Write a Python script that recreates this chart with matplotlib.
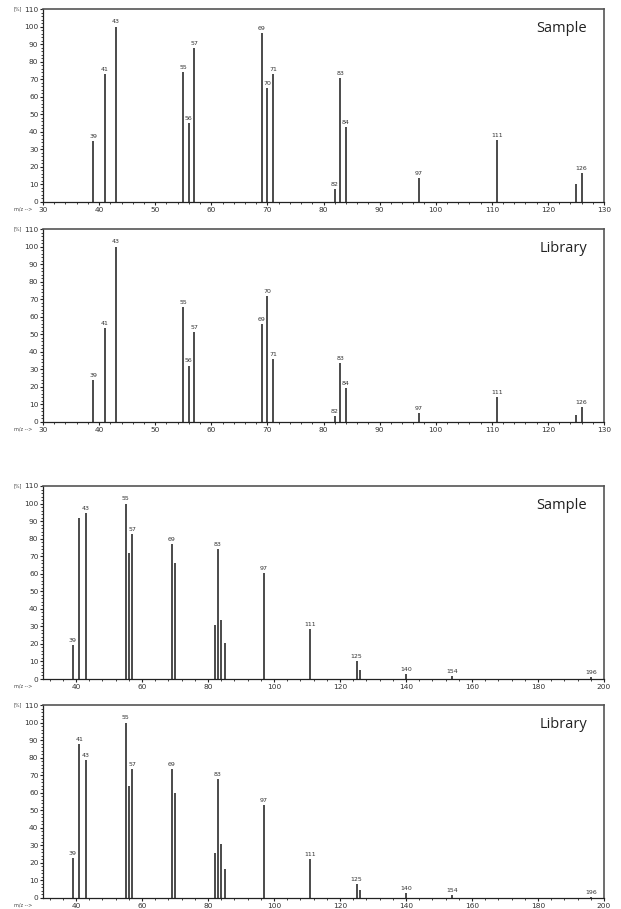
import matplotlib
matplotlib.use("Agg")
import matplotlib.pyplot as plt
from matplotlib.ticker import MultipleLocator

# ---- data ----
mz_small = [39, 41, 43, 55, 56, 57, 69, 70, 71, 82, 83, 84, 97, 111, 125, 126]
sample_small = [35, 73, 100, 74, 45, 88, 96.3, 65, 73, 7.4, 70.4, 42.5, 13.8, 35.3, 10.4, 16.7]
library_small = [24, 53.5, 100, 65.4, 32.2, 51.4, 55.8, 71.7, 35.7, 3.4, 33.6, 19.3, 5.3, 14.0, 4.2, 8.3]
labels_sample_small = [39, 41, 43, 55, 56, 57, 69, 70, 71, 82, 83, 84, 97, 111, 126]
labels_library_small = [39, 41, 43, 55, 56, 57, 69, 70, 71, 82, 83, 84, 97, 111, 126]

mz_large = [39, 41, 43, 55, 56, 57, 69, 70, 82, 83, 84, 85, 97, 111, 125, 126, 140, 154, 196]
sample_large = [19.5, 92, 94.8, 100, 71.7, 82.5, 76.8, 66, 30.9, 74.2, 33.6, 20.3, 60.3, 28.4, 10.2, 5.1, 2.8, 1.7, 0.9]
library_large = [23, 88, 78.5, 100, 64, 73.7, 73.7, 60, 25.8, 67.6, 30.6, 16.3, 52.8, 22.4, 7.8, 4.4, 3.0, 1.9, 0.8]
labels_sample_large = [39, 43, 55, 57, 69, 83, 97, 111, 125, 140, 154, 196]
labels_library_large = [39, 41, 43, 55, 57, 69, 83, 97, 111, 125, 140, 154, 196]

titles = ["Sample", "Library", "Sample", "Library"]

W, H = 621, 909
fig = plt.figure(figsize=(W / 100, H / 100), dpi=100)

panels = [
    (9, mz_small, sample_small, labels_sample_small, (30, 130), 10, 2),
    (229, mz_small, library_small, labels_library_small, (30, 130), 10, 2),
    (486, mz_large, sample_large, labels_sample_large, (30, 200), 20, 4),
    (705, mz_large, library_large, labels_library_large, (30, 200), 20, 4),
]

left_px, right_px, h_px = 43, 604, 193
tick_color = "#333333"
for (top, mz, vals, labs, xl, xmaj, xmin), title in zip(panels, titles):
    ax = fig.add_axes([left_px / W, (H - top - h_px) / H, (right_px - left_px) / W, h_px / H])
    ax.vlines(mz, 0, vals, colors="#1a1a1a", linewidth=1.1)
    for m, v in zip(mz, vals):
        if m in labs:
            ax.annotate(str(m), (m, v), xytext=(0, 1.5), textcoords="offset points",
                        ha="center", va="bottom", fontsize=4.5, color="#333333")
    ax.set_xlim(*xl)
    ax.set_ylim(0, 110)
    ax.xaxis.set_major_locator(MultipleLocator(xmaj))
    ax.xaxis.set_minor_locator(MultipleLocator(xmin))
    ax.yaxis.set_major_locator(MultipleLocator(10))
    ax.yaxis.set_minor_locator(MultipleLocator(2))
    ax.tick_params(axis="both", which="major", labelsize=5.3, colors="#222222",
                   labelcolor=tick_color, length=2.5, width=0.8, pad=0.8)
    ax.tick_params(axis="both", which="minor", length=1.5, width=0.6, colors="#222222")
    for s in ("top", "right"):
        ax.spines[s].set_color("#555555")
        ax.spines[s].set_linewidth(1.2)
    for s in ("left", "bottom"):
        ax.spines[s].set_color("#222222")
        ax.spines[s].set_linewidth(0.9)
    ax.text(0.97, 0.9, title, transform=ax.transAxes, ha="right", va="center",
            fontsize=10.5, family="Open Sans", color="#222222")
    ax.text(-0.038, 1.0, "[%]", transform=ax.transAxes, ha="right", va="center",
            fontsize=3.5, color="#444444")
    ax.text(-0.02, -0.038, "m/z -->", transform=ax.transAxes, ha="right", va="center",
            fontsize=3.5, color="#444444")

fig.savefig("out.png", dpi=100)
